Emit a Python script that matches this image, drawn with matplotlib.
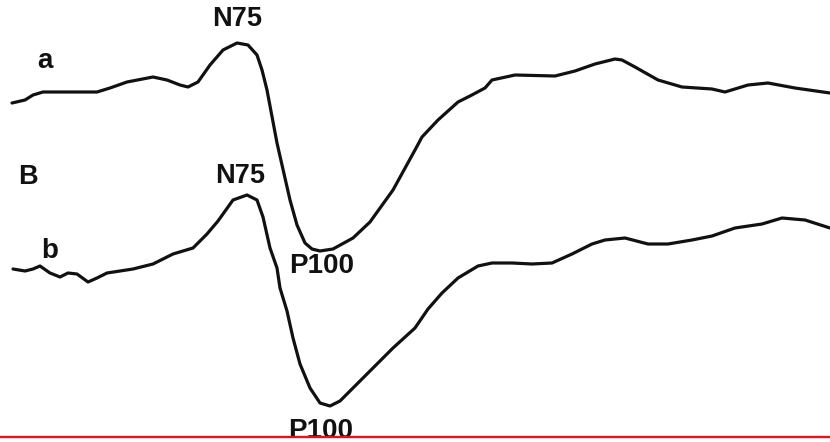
import numpy as np
import matplotlib.pyplot as plt

plt.rcParams['font.family'] = ['Liberation Sans', 'DejaVu Sans']

# traced waveforms (x = sweep position, y = deflection, negative up)
t_a = [12, 25, 33, 43, 67, 97, 110, 127, 153, 167, 180, 188, 198, 210, 223, 237, 248,
       257, 262, 267, 277, 290, 297, 305, 312, 320, 333, 353, 370, 393, 415, 422, 438,
       458, 470, 485, 492, 515, 555, 575, 595, 615, 622, 635, 658, 682, 712, 725, 748,
       768, 795, 830]
v_a = [103, 100, 95, 92, 92, 92, 88, 82, 77, 80, 85, 87, 82, 65, 50, 43, 45,
       55, 70, 90, 143, 200, 225, 243, 249, 251, 249, 238, 222, 190, 150, 137, 120,
       102, 96, 88, 80, 75, 76, 71, 64, 59, 60, 67, 80, 87, 89, 92, 85,
       83, 88, 93]

t_b = [13, 25, 33, 40, 50, 60, 68, 77, 88, 97, 107, 133, 153, 173, 193, 207, 218,
       233, 247, 257, 263, 270, 277, 280, 287, 293, 300, 310, 320, 330, 340, 353, 373,
       393, 415, 428, 442, 458, 478, 492, 512, 532, 552, 572, 592, 605, 625, 648, 668,
       692, 712, 735, 762, 782, 805, 830]
v_b = [269, 271, 269, 266, 273, 277, 273, 274, 282, 278, 273, 269, 264, 254, 248, 234, 221,
       200, 195, 200, 217, 248, 268, 288, 311, 338, 364, 388, 403, 406, 401, 388, 368,
       348, 328, 309, 293, 278, 266, 263, 263, 264, 263, 254, 244, 240, 238, 244, 244,
       240, 236, 228, 224, 218, 220, 228]

fig = plt.figure(figsize=(8.3, 4.42), dpi=100)
ax = fig.add_axes([0, 0, 1, 1])
ax.set_xlim(0, 830)
ax.set_ylim(442, 0)
ax.axis('off')

ax.plot(t_a, v_a, color='#111111', lw=2.3, solid_joinstyle='round', solid_capstyle='round')
ax.plot(t_b, v_b, color='#111111', lw=2.3, solid_joinstyle='round', solid_capstyle='round')

lab = dict(fontweight='bold', color='#111111', ha='center', va='center')
ax.text(237, 19, 'N75', fontsize=19.5, **lab)
ax.text(240, 176, 'N75', fontsize=19.5, **lab)
ax.text(322, 266, 'P100', fontsize=20, **lab)
ax.text(321, 431, 'P100', fontsize=20, **lab)
ax.text(45, 61, 'a', fontsize=20, **lab)
ax.text(28, 177, 'B', fontsize=19.5, **lab)
ax.text(50, 251, 'b', fontsize=20, **lab)

ax.axhline(437, color='#e8101a', lw=1.7, zorder=5)

fig.savefig('out.png', dpi=100)
